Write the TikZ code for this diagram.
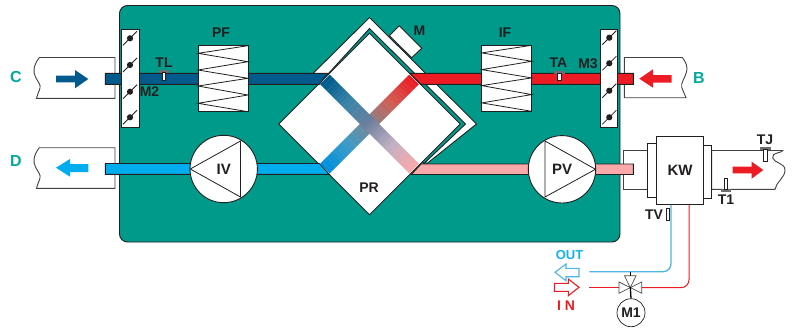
\documentclass[tikz,border=0pt]{standalone}
\usepackage{fontspec}
\usetikzlibrary{shapes.geometric}
\setmainfont{Liberation Sans}
\definecolor{teal1}{HTML}{009A8A}
\definecolor{teal2}{HTML}{00A99D}
\definecolor{ink}{HTML}{231F20}
\definecolor{dblue}{HTML}{005A8C}
\definecolor{lblue}{HTML}{00AEEF}
\definecolor{mblue}{HTML}{0090DC}
\definecolor{red1}{HTML}{ED1C24}
\definecolor{pink1}{HTML}{F9A9AA}
\definecolor{midA}{HTML}{6E7F9E}
\definecolor{midB}{HTML}{7F8590}
\definecolor{qDark}{HTML}{3A85A8}
\definecolor{qPink}{HTML}{C0B0C4}
\definecolor{qRed}{HTML}{D06055}
\definecolor{qBlue}{HTML}{3D9BC8}
\definecolor{outl}{HTML}{4DB5E8}
\tikzset{
  lab/.style={font=\bfseries\fontsize{14}{14}\selectfont,text=ink,inner sep=0pt},
  side/.style={font=\bfseries\fontsize{16}{16}\selectfont,text=teal2,inner sep=0pt},
  edgeline/.style={draw=ink,line width=0.9pt},
  duct/.style={draw=ink!85,line width=0.9pt,fill=white},
  pipe/.style={draw=ink,line width=0.9pt},
  thin1/.style={draw=ink,line width=0.8pt},
  fan/.style={circle,draw=ink,line width=0.9pt,fill=white,minimum size=67.4pt,inner sep=0pt,font=\bfseries\fontsize{15}{15}\selectfont,text=ink},
  filterbox/.style={rectangle,draw=ink,line width=0.9pt,fill=white,minimum width=50pt,minimum height=66pt,inner sep=0pt},
  damper/.style={rectangle,draw=ink,line width=0.9pt,fill=white,minimum width=17.5pt,minimum height=98pt,inner sep=0pt},
  blade/.style={draw=ink,line width=0.8pt},
  sensorhead/.style={fill=ink!65,draw=ink!65,line width=0.3pt},
  sensorstem/.style={fill=white,draw=ink,line width=0.6pt},
  hollow/.style={fill=white,line width=1.1pt,line join=miter},
}
\newcommand{\dampblades}[2]{%
  \fill[ink] (#1,#2) circle (3.1);
  \draw[blade] (#1-7,#2+7) -- (#1+7,#2-7);
}
\newcommand{\zigzag}[2]{% left x, top y
  \draw[thin1] (#1+50,#2) -- (#1,#2+7.6) -- (#1+50,#2+16) -- (#1,#2+24.3) -- (#1+50,#2+32.6)
    -- (#1,#2+40.3) -- (#1+50,#2+49.3) -- (#1,#2+57.6) -- (#1+50,#2+66);
}
% half of a crossing band, in the rotated frame: #1 = +1 or -1 for the end it starts from, colours from end over quarter to middle
\newcommand{\bandhalf}[4]{%
  \foreach \i in {0,...,19}{
    \pgfmathsetmacro{\xa}{#1*(63-\i*3.15)}
    \pgfmathsetmacro{\xb}{#1*(63-\i*3.15-3.4)}
    \pgfmathtruncatemacro{\pa}{100-\i*10}
    \pgfmathtruncatemacro{\pb}{200-\i*10}
    \ifnum\i<10
      \fill[#2!\pa!#3] (\xa,-6.8) rectangle (\xb,6.8);
    \else
      \fill[#3!\pb!#4] (\xa,-6.8) rectangle (\xb,6.8);
    \fi
  }%
}
\begin{document}
\begin{tikzpicture}[x=1pt,y=-1pt]
\useasboundingbox (0,0) rectangle (795,327);
% ducts outside the casing
\draw[duct] (115,57.5) -- (39.3,57.5) .. controls (33,66) and (33,72) .. (35.5,77) .. controls (38,82) and (41,85) .. (40,88) .. controls (39,92) and (37,95) .. (36.5,98.3) -- (115,98.3) -- cycle;
\draw[duct] (115,147.7) -- (39.3,147.7) .. controls (33,156) and (33,162) .. (35.5,167) .. controls (38,172) and (41,175) .. (40,178) .. controls (39,182) and (37,185) .. (36.5,188.3) -- (115,188.3) -- cycle;
\draw[duct] (624.3,57.5) -- (682.3,57.5) .. controls (686,62) and (688,67) .. (686.5,72) .. controls (685,78) and (680.5,83) .. (681.7,87.3) .. controls (682.5,91) and (685,94) .. (686,97.7) -- (624.3,97.7) -- cycle;
\draw[duct] (623.3,150) rectangle (647,189);
\draw[duct] (711.7,150.5) -- (782.7,150.5) .. controls (783,153) and (771,152) .. (772.7,158) .. controls (774,163) and (785,163) .. (785,170) .. controls (785,178) and (776,182) .. (775,189.3) -- (711.7,189.3) -- cycle;
% casing
\draw[edgeline,fill=teal1,rounded corners=8pt] (119.5,5.5) rectangle (620,242);
% exchanger surround
\draw[edgeline,fill=white] (313,73.5) -- (369.5,17.5) -- (476.5,124) -- (427,163.5) -- cycle;
\draw[edgeline,fill=white] (399.3,25.7) -- (421.7,48.3) -- (411.7,57.7) -- (389.3,35.7) -- cycle;
\draw[edgeline,fill=teal1] (328,74) -- (369.5,28.5) -- (465.5,124) -- (424,163.5) -- cycle;
\node[draw=ink,line width=0.9pt,fill=white,diamond,shape aspect=1,inner sep=0pt,minimum size=182pt] (PRbox) at (369.5,124) {};
% air pipes
\filldraw[pipe,fill=dblue] (105.3,73.3) -- (328.3,73.3) -- (319.3,84.3) -- (105.3,84.3) -- cycle;
\filldraw[pipe,fill=lblue] (105.3,163.5) -- (319.3,163.5) -- (329.3,174.3) -- (105.3,174.3) -- cycle;
\filldraw[pipe,fill=red1] (410,73.3) -- (633.3,73.3) -- (633.3,84.3) -- (421,84.3) -- cycle;
\filldraw[pipe,fill=pink1] (421,164) -- (633.3,164) -- (633.3,174.5) -- (411.3,174.5) -- cycle;
% crossing flows
\begin{scope}[shift={(369.5,124)},rotate=45]
  \bandhalf{-1}{mblue}{qBlue}{midB}
  \bandhalf{1}{red1}{qRed}{midB}
\end{scope}
\begin{scope}[shift={(369.5,124)},rotate=-45]
  \bandhalf{-1}{dblue}{qDark}{midA}
  \bandhalf{1}{pink1}{qPink}{midA}
\end{scope}
% filters
\node[filterbox] (PF) at (223,78.7) {};
\zigzag{198}{45.7}
\node[filterbox] (IF) at (506.7,78.3) {};
\zigzag{481.7}{45.3}
% fans
\node[fan] (IV) at (223.7,169) {IV};
\draw[thin1] (190.3,169) -- (240.5,141) -- (240.5,197) -- cycle;
\node[fan] (PV) at (562,169.3) {PV};
\draw[thin1] (595.5,169.3) -- (545,141) -- (545,197) -- cycle;
% dampers
\node[damper] (DL) at (130.2,78.3) {};
\node[damper] (DR) at (609,78) {};
\dampblades{130}{38.3}\dampblades{130}{65}\dampblades{130}{91.7}\dampblades{130}{117.3}
\dampblades{609.3}{37.7}\dampblades{609.3}{63.3}\dampblades{609.3}{90.7}\dampblades{609.3}{117.3}
% KW coil
\node[edgeline,fill=white,rectangle,minimum width=9pt,minimum height=54pt,inner sep=0pt] (KWL) at (651.5,170.3) {};
\node[edgeline,fill=white,rectangle,minimum width=9pt,minimum height=53pt,inner sep=0pt] (KWR) at (707.2,171.5) {};
\node[edgeline,fill=white,rectangle,minimum width=46.7pt,minimum height=68.3pt,inner sep=0pt,font=\bfseries\fontsize{15}{15}\selectfont,text=ink] (KW) at (680,170.2) {KW};
% sensors
\fill[sensorhead] (159,69.8) rectangle (168,72.4);
\filldraw[sensorstem] (162,72.4) rectangle (165.3,80.5);
\fill[sensorhead] (554.5,70.8) rectangle (564,73.2);
\filldraw[sensorstem] (557.7,73.2) rectangle (561,80.5);
\fill[sensorhead] (760,146.8) rectangle (770,149.5);
\filldraw[sensorstem] (763.7,149.5) rectangle (767,161);
\fill[sensorhead] (721,188.8) rectangle (730,191.5);
\filldraw[sensorstem] (724,178) rectangle (727.5,188.8);
\filldraw[sensorstem] (666.3,208.3) rectangle (669.7,220);
% flow arrows
\fill[dblue] (56,75.7) -- (75,75.7) -- (75,70) -- (88.3,79) -- (75,88.3) -- (75,82.3) -- (56,82.3) -- cycle;
\fill[lblue] (88.3,164) -- (70,164) -- (70,159) -- (56,167.7) -- (70,176.7) -- (70,172) -- (88.3,172) -- cycle;
\fill[red1] (671.7,75) -- (653,75) -- (653,69.3) -- (639.3,78.7) -- (653,87.7) -- (653,82.7) -- (671.7,82.7) -- cycle;
\fill[red1] (732.7,166.7) -- (751.7,166.7) -- (751.7,161.7) -- (763.3,170) -- (751.7,178.7) -- (751.7,173.3) -- (732.7,173.3) -- cycle;
% water circuit
\coordinate (outEnd) at (589.3,271.7);
\coordinate (inEnd) at (589.3,287.7);
\node[circle,inner sep=0pt,minimum size=22pt] (V) at (630.3,287.7) {};
\draw[outl,line width=1.3pt,rounded corners=8pt] ([xshift=-9pt]KW.south) |- (outEnd);
\draw[red1,line width=1pt,rounded corners=8pt] ([xshift=9pt]KW.south) |- (V.east);
\draw[red1,line width=1pt] (V.west) -- (inEnd);
\node[circle,draw=ink,line width=0.7pt,fill=white,minimum size=28pt,inner sep=0pt,font=\bfseries\fontsize{14}{14}\selectfont,text=ink] (M1) at (631,312.7) {M1};
\draw[ink!80,line width=0.7pt,fill=white] (619,282) -- (641.7,293.3) -- (641.7,282) -- (619,293.3) -- cycle;
\draw[ink!80,line width=0.7pt,fill=white] (624.5,275.8) -- (636,275.8) -- (630.3,287.7) -- cycle;
\draw[black,line width=1.3pt] (630.3,271.7) -- (630.3,275.8);
\draw[black,line width=1.3pt] (630.3,287) -- (M1.north);
% hollow arrows
\draw[hollow,draw=outl] (579,268.3) -- (566,268.3) -- (566,264) -- (555,272.3) -- (566,280.7) -- (566,276.7) -- (579,276.7) -- cycle;
\draw[hollow,draw=red1] (554.5,283.3) -- (568.3,283.3) -- (568.3,279) -- (579,287.3) -- (568.3,295.7) -- (568.3,291.3) -- (554.5,291.3) -- cycle;
% labels
\node[side] (lC) at (16,77) {C};
\node[side] (lD) at (16,160.5) {D};
\node[side] (lB) at (699,78) {B};
\node[lab] (lPF) at (221,33) {PF};
\node[lab] (lM) at (419.5,31) {M};
\node[lab] (lIF) at (505,33) {IF};
\node[lab] (lTL) at (164,63) {TL};
\node[lab] (lTA) at (558.5,63) {TA};
\node[lab] (lM2) at (149.5,92) {M2};
\node[lab] (lM3) at (588,63.5) {M3};
\node[lab] (lPR) at (369,188) {PR};
\node[lab] (lTJ) at (765,140) {TJ};
\node[lab] (lT1) at (726,199.5) {T1};
\node[lab] (lTV) at (654,214.5) {TV};
\node[lab,font=\bfseries\fontsize{13}{13}\selectfont,text=lblue!70!outl] (lOUT) at (569.5,255) {OUT};
\node[lab,text=red1] (lIN) at (566,306) {I N};
\end{tikzpicture}
\end{document}
